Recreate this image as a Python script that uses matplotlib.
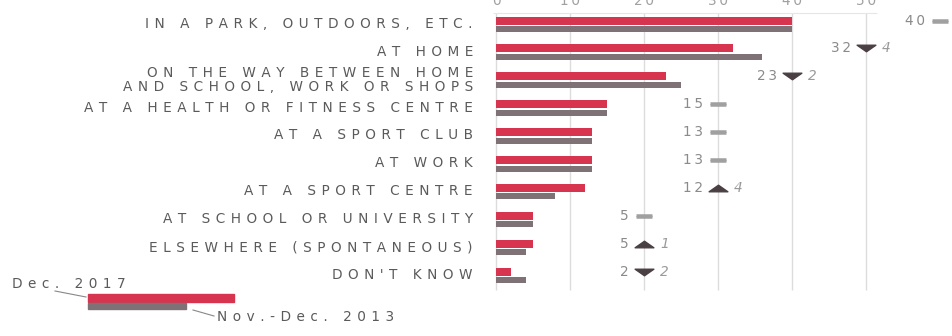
import numpy as np
import matplotlib
matplotlib.use("Agg")
import matplotlib.pyplot as plt
from matplotlib.path import Path
from matplotlib.patches import Rectangle
from matplotlib.lines import Line2D

# ---------------------------------------------------------------------------
# Data: where people do sport or physical activity (%)
# ---------------------------------------------------------------------------
places = [
    "IN A PARK, OUTDOORS, ETC.",
    "AT HOME",
    "ON THE WAY BETWEEN HOME\nAND SCHOOL, WORK OR SHOPS",
    "AT A HEALTH OR FITNESS CENTRE",
    "AT A SPORT CLUB",
    "AT WORK",
    "AT A SPORT CENTRE",
    "AT SCHOOL OR UNIVERSITY",
    "ELSEWHERE (SPONTANEOUS)",
    "DON'T KNOW",
]
share_2017 = [40, 32, 23, 15, 13, 13, 12, 5, 5, 2]
share_2013 = [40, 36, 25, 15, 13, 13, 8, 5, 4, 4]
x_ticks = [0, 10, 20, 30, 40, 50]
series_names = ["Dec. 2017", "Nov.-Dec. 2013"]

RED = "#d6344f"
GREY = "#7f7276"
TEXT = "#5a5a5a"
LIGHT = "#a0a0a0"
GRID = "#dcdcdc"

W, H = 953, 336
X0 = 496.0          # pixel column of the zero line
PX_PER_UNIT = 7.4   # pixels per percentage point
ROW0 = 20.5         # pixel row of the first red bar centre
PITCH = 27.9        # pixel distance between rows
FS = 9.8


def spaced(s, n=2):
    """Track letters apart with thin spaces."""
    sep = "\u2009" * n
    return "\n".join(sep.join(line) for line in s.split("\n"))


plt.rcParams["font.family"] = ["DejaVu Sans"]

fig = plt.figure(figsize=(W / 100, H / 100), dpi=100)
ax = fig.add_axes([0, 0, 1, 1])
ax.set_xlim(-X0 / PX_PER_UNIT, (W - X0) / PX_PER_UNIT)
ax.set_ylim((H - ROW0) / PITCH, -ROW0 / PITCH)
ax.axis("off")

n = len(places)
rows = np.arange(n)
grey_off = 8.5 / PITCH

# grid and top rule
top = -7.5 / PITCH
bottom = (290 - ROW0) / PITCH
ax.vlines(x_ticks, top, bottom, color=GRID, lw=1.0, zorder=0)
ax.hlines(top, -0.4, 51.5, color="#e6e6e6", lw=0.8, zorder=0)
for t in x_ticks:
    ax.text(t, (1 - ROW0) / PITCH, spaced(str(t), 1), ha="center", va="center",
            fontsize=FS, color=LIGHT)

# bars
ax.barh(rows, share_2017, height=8 / PITCH, color=RED, zorder=2)
ax.barh(rows + grey_off, share_2013, height=6 / PITCH, color=GREY, zorder=2)

# category labels
for i, lab in enumerate(places):
    ax.text(-23 / PX_PER_UNIT, i + 0.12, spaced(lab), ha="right", va="center",
            fontsize=FS, color=TEXT, linespacing=1.0)

# change markers
down = Path([(-1, 0.35), (1, 0.35), (0, -0.35), (-1, 0.35)],
            [Path.MOVETO, Path.LINETO, Path.LINETO, Path.CLOSEPOLY])
up = Path([(-1, -0.35), (1, -0.35), (0, 0.35), (-1, -0.35)],
          [Path.MOVETO, Path.LINETO, Path.LINETO, Path.CLOSEPOLY])
same = Path([(-1, 0.15), (1, 0.15), (-1, -0.15), (1, -0.15)],
            [Path.MOVETO, Path.LINETO, Path.MOVETO, Path.LINETO])

for i, (new, old) in enumerate(zip(share_2017, share_2013)):
    mx = (new // 10 + 2) * 10
    diff = new - old
    ax.text(mx - 15 / PX_PER_UNIT, i, spaced(str(new), 1), ha="right", va="center",
            fontsize=FS, color="#8a8a8a")
    if diff == 0:
        ax.plot(mx, i, marker=same, ms=12, mew=1.8, mec="#a0a0a0", mfc="none",
                ls="none", zorder=3)
    else:
        ax.plot(mx, i, marker=down if diff < 0 else up, ms=13.5, color="#4a4043",
                ls="none", zorder=3)
        ax.text(mx + 16 / PX_PER_UNIT, i, str(abs(diff)), ha="left",
                va="center", fontsize=FS, color="#9a9a9a", style="italic")

# key in the lower left corner
fig.patches.append(Rectangle((88 / W, 1 - 302 / H), 146 / W, 8 / H,
                             transform=fig.transFigure, color=RED))
fig.patches.append(Rectangle((88 / W, 1 - 309 / H), 98 / W, 6 / H,
                             transform=fig.transFigure, color=GREY))
fig.lines.append(Line2D([55 / W, 86 / W], [1 - 291 / H, 1 - 297 / H],
                        transform=fig.transFigure, color="#888888", lw=0.8))
fig.lines.append(Line2D([193 / W, 214 / W], [1 - 310 / H, 1 - 316 / H],
                        transform=fig.transFigure, color="#888888", lw=0.8))
fig.text(12 / W, 1 - 284 / H, spaced(series_names[0]), ha="left", va="center",
         fontsize=FS, color=TEXT)
fig.text(217 / W, 1 - 317 / H, spaced(series_names[1]), ha="left", va="center",
         fontsize=FS, color=TEXT)

fig.savefig("out.png", dpi=100)
